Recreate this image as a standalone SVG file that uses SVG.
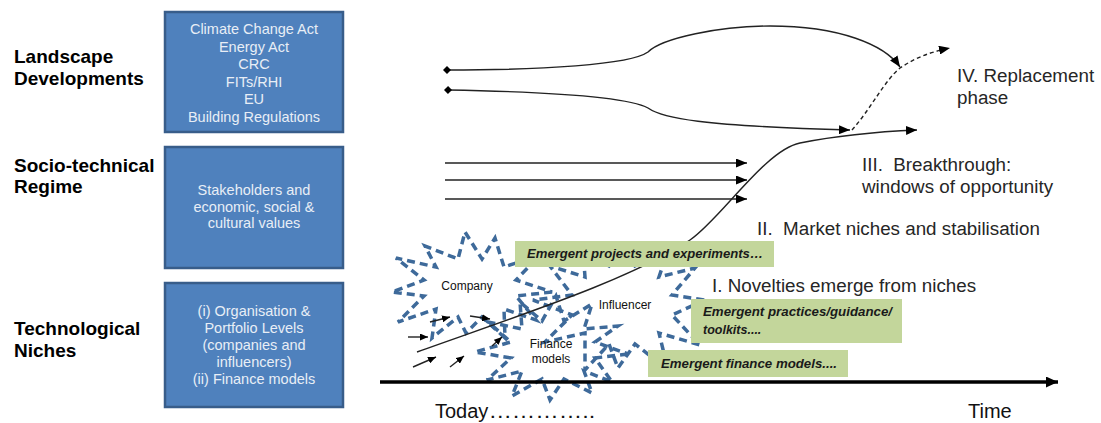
<svg xmlns="http://www.w3.org/2000/svg" width="1101" height="423" viewBox="0 0 1101 423">
<style>
.lbl{font-family:"Liberation Sans",Arial,sans-serif;font-size:19px;font-weight:bold;fill:#000}
.box{fill:#4F81BD;stroke:#385D8A;stroke-width:2.5}
.bt{font-family:"Liberation Sans",Arial,sans-serif;font-size:14.5px;fill:#E8EEF6;text-anchor:middle}
.star{fill:none;stroke:#3E6A9A;stroke-width:3.5;stroke-dasharray:8 5;stroke-linejoin:miter}
.st{font-family:"Liberation Sans",Arial,sans-serif;font-size:12px;fill:#111;text-anchor:middle}
.gb{fill:#C3D69B}
.gt{font-family:"Liberation Sans",Arial,sans-serif;font-size:12.5px;font-weight:bold;font-style:italic;fill:#1a1a1a}
.ph{font-family:"Liberation Sans",Arial,sans-serif;font-size:18.8px;fill:#262626}
.ax{font-family:"Liberation Sans",Arial,sans-serif;font-size:20px;fill:#111}
.ln{fill:none;stroke:#222;stroke-width:1.4}
</style>
<defs>
<marker id="ah" markerUnits="userSpaceOnUse" markerWidth="11" markerHeight="9" refX="11" refY="4.5" orient="auto"><path d="M0,0 L11,4.5 L0,9 z" fill="#000"/></marker>
<marker id="ahs" markerUnits="userSpaceOnUse" markerWidth="8" markerHeight="7" refX="8" refY="3.5" orient="auto"><path d="M0,0 L8,3.5 L0,7 z" fill="#000"/></marker>
<marker id="aht" markerUnits="userSpaceOnUse" markerWidth="12" markerHeight="11" refX="12" refY="5.5" orient="auto"><path d="M0,0 L12,5.5 L0,11 z" fill="#000"/></marker>
<marker id="dm" markerUnits="userSpaceOnUse" markerWidth="8" markerHeight="8" refX="4" refY="4" orient="auto"><path d="M0,4 L4,0 L8,4 L4,8 z" fill="#000"/></marker>
</defs>
<rect width="1101" height="423" fill="#fff"/>

<g id="label-landscape"><text class="lbl" x="14" y="63">Landscape</text><text class="lbl" x="14" y="85">Developments</text></g>
<g id="label-regime"><text class="lbl" x="14" y="172">Socio-technical</text><text class="lbl" x="14" y="193">Regime</text></g>
<g id="label-niches"><text class="lbl" x="14" y="335">Technological</text><text class="lbl" x="14" y="357">Niches</text></g>

<g id="box-landscape"><rect class="box" x="165" y="12" width="178" height="120"/>
<text class="bt" x="254" y="34">Climate Change Act</text>
<text class="bt" x="254" y="51.5">Energy Act</text>
<text class="bt" x="254" y="69">CRC</text>
<text class="bt" x="254" y="86.5">FITs/RHI</text>
<text class="bt" x="254" y="104">EU</text>
<text class="bt" x="254" y="121.5">Building Regulations</text></g>
<g id="box-regime"><rect class="box" x="165" y="147" width="178" height="121"/>
<text class="bt" x="254" y="195">Stakeholders and</text>
<text class="bt" x="254" y="211.5">economic, social &amp;</text>
<text class="bt" x="254" y="228">cultural values</text></g>
<g id="box-niches"><rect class="box" x="165" y="283" width="178" height="124"/>
<text class="bt" x="254" y="316">(i) Organisation &amp;</text>
<text class="bt" x="254" y="333">Portfolio Levels</text>
<text class="bt" x="254" y="350">(companies and</text>
<text class="bt" x="254" y="367">influencers)</text>
<text class="bt" x="254" y="384">(ii) Finance models</text></g>

<g id="star-company"><polygon class="star" points="552,292 516,296 536,320 504,309 505,338 482,317 466,333 458,317 432,338 436,309 398,322 424,296 392,292 424,280 396,258 436,267 425,246 458,259 465,232 482,259 495,238 504,267 540,255 516,280"/></g>
<g id="star-influencer"><polygon class="star" points="705,300 672,315 700,345 659,333 668,370 635,344 618,368 609,344 585,370 585,333 545,342 572,315 533,300 572,295 550,266 585,277 583,250 609,266 625,244 635,266 668,250 659,277 695,268 672,295"/></g>
<g id="star-finance"><polygon class="star" points="628,354 595,358 612,382 584,371 592,393 564,379 550,400 542,379 512,396 522,371 487,380 511,358 475,352 511,342 488,322 522,329 520,302 542,321 556,296 564,321 592,304 584,329 618,326 595,342"/></g>

<g id="connectors">
<path class="ln" d="M447,70 C540,70 630,65 648,52 C662,38 720,26 770,26 C840,26 885,45 900,67" marker-start="url(#dm)" marker-end="url(#ah)"/>
<path class="ln" d="M448,90 C560,92 630,98 648,108 C662,118 700,126 850,130" marker-start="url(#dm)" marker-end="url(#ah)"/>
<path class="ln" d="M852,130 C870,110 885,80 900,68 C915,58 930,52 950,48" stroke-dasharray="4 3" marker-end="url(#ah)"/>
<path class="ln" d="M445,163 L747,163" marker-end="url(#ah)"/>
<path class="ln" d="M445,180 L747,180" marker-end="url(#ah)"/>
<path class="ln" d="M445,199 L747,199" marker-end="url(#ah)"/>
<path class="ln" d="M417,352 C520,315 630,280 690,240 C720,220 765,150 800,143 C835,136 870,132 917,130" marker-end="url(#ah)"/>
<path class="ln" d="M408,337 L428,337" marker-end="url(#ahs)"/>
<path class="ln" d="M430,322 L450,317" marker-end="url(#ahs)"/>
<path class="ln" d="M470,316 L490,319" marker-end="url(#ahs)"/>
<path class="ln" d="M413,367 L436,357" marker-end="url(#ahs)"/>
<path class="ln" d="M450,367 L464,356" marker-end="url(#ahs)"/>
<path class="ln" d="M492,346 L502,337" marker-end="url(#ahs)"/>
<path d="M380,382 L1058,382" fill="none" stroke="#000" stroke-width="3.5" marker-end="url(#aht)"/>
</g>

<g id="star-labels">
<text class="st" x="467" y="290">Company</text>
<text class="st" x="625" y="309">Influencer</text>
<text class="st" x="551" y="348">Finance</text>
<text class="st" x="551" y="363">models</text>
</g>

<g id="green-projects"><rect class="gb" x="515" y="241" width="259" height="26"/><text class="gt" x="527" y="258" textLength="236" lengthAdjust="spacingAndGlyphs">Emergent projects and experiments…</text></g>
<g id="green-practices"><rect class="gb" x="691" y="299" width="211" height="44"/><text class="gt" x="703" y="316" textLength="189" lengthAdjust="spacingAndGlyphs">Emergent practices/guidance/</text><text class="gt" x="703" y="334">toolkits....</text></g>
<g id="green-finance"><rect class="gb" x="648" y="350" width="200" height="27"/><text class="gt" x="661" y="368" textLength="176" lengthAdjust="spacingAndGlyphs">Emergent finance models....</text></g>

<g id="phase-4"><text class="ph" x="957" y="82">IV. Replacement</text><text class="ph" x="957" y="104">phase</text></g>
<g id="phase-3"><text class="ph" x="862" y="171" xml:space="preserve">III.  Breakthrough:</text><text class="ph" x="862" y="193">windows of opportunity</text></g>
<g id="phase-2"><text class="ph" x="757" y="235" xml:space="preserve">II.  Market niches and stabilisation</text></g>
<g id="phase-1"><text class="ph" x="712" y="292">I. Novelties emerge from niches</text></g>

<g id="axis-labels"><text class="ax" x="435" y="418">Today<tspan textLength="107" lengthAdjust="spacingAndGlyphs">…………..</tspan></text><text class="ax" x="968" y="418">Time</text></g>
</svg>
